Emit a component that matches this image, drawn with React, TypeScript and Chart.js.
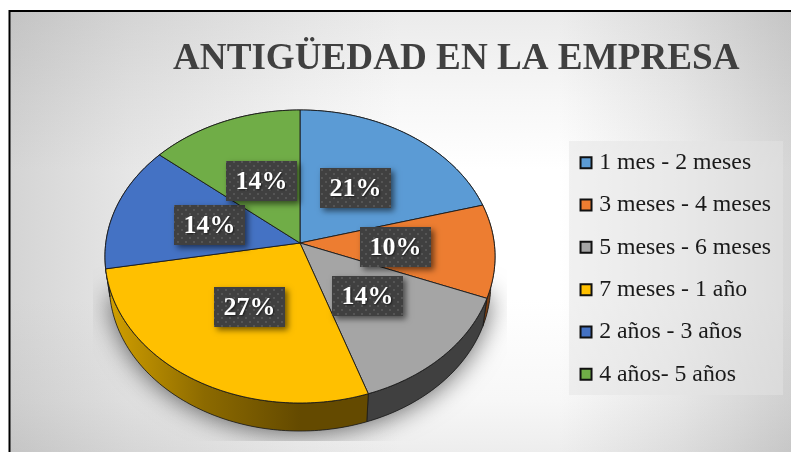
import React, { useEffect, useRef } from "react";
import { Chart, registerables } from "chart.js";

Chart.register(...registerables);

const TITLE = "ANTIGÜEDAD EN LA EMPRESA";
const CATEGORIES = [
  "1 mes - 2 meses",
  "3 meses - 4 meses",
  "5 meses - 6 meses",
  "7 meses - 1 año",
  "2 años - 3 años",
  "4 años- 5 años",
];
const VALUES = [20.7, 10.3, 13.8, 27.4, 13.9, 13.9];
const COLORS = ["#5B9BD5", "#ED7D31", "#A5A5A5", "#FFC000", "#4472C4", "#70AD47"];

const SERIF = "'Liberation Serif', serif";
const PIE_CX = 300;
const PIE_CY = 243;
const TILT = 0.748;
const PERSPECTIVE = 0.0922;
const DEPTH = 28;
const RIM_SHRINK = 0.978;

function project(cx: number, cy: number, r: number, a: number, f: number) {
  const u = Math.cos(a) * f;
  const v = Math.sin(a) * f;
  const w = 1 - PERSPECTIVE * v;
  return { x: cx + (r * u) / w, y: cy + (r * TILT * v) / w };
}

function rimPoints(r: number, a0: number, a1: number, lower: boolean) {
  const n = Math.max(4, Math.ceil((a1 - a0) / 0.02));
  const pts: { x: number; y: number }[] = [];
  for (let i = 0; i <= n; i++) {
    const a = a0 + ((a1 - a0) * i) / n;
    const p = project(PIE_CX, PIE_CY, r, a, 1);
    pts.push(
      lower ? { x: PIE_CX + (p.x - PIE_CX) * RIM_SHRINK, y: p.y + DEPTH } : p
    );
  }
  return pts;
}

function makeDots(ctx: CanvasRenderingContext2D) {
  const c = document.createElement("canvas");
  c.width = 8;
  c.height = 8;
  const g = c.getContext("2d")!;
  g.fillStyle = "#404040";
  g.fillRect(0, 0, 8, 8);
  g.fillStyle = "#555555";
  g.fillRect(1, 1, 2, 2);
  g.fillRect(5, 5, 2, 2);
  return ctx.createPattern(c, "repeat")!;
}

const backdrop = {
  id: "backdrop",
  beforeDraw(chart: any) {
    const { ctx, width, height } = chart;
    ctx.save();
    ctx.fillStyle = "#fff";
    ctx.fillRect(0, 0, width, height);

    const W = width;
    const H = height;
    const gx = ctx.createLinearGradient(10, 0, W, 0);
    const xStops: [number, number][] = [[10, 212], [130, 230], [300, 247], [400, 255], [560, 255], [680, 237], [791, 214]];
    xStops.forEach(([x, v]) => gx.addColorStop((x - 10) / (W - 10), `rgb(${v},${v},${v})`));
    ctx.fillStyle = gx;
    ctx.fillRect(10, 12, W - 10, H - 12);

    const gy = ctx.createLinearGradient(0, 12, 0, H);
    const yStops: [number, number][] = [[12, 235], [100, 247], [170, 255], [300, 255], [400, 247], [452, 237]];
    yStops.forEach(([y, v]) => gy.addColorStop((y - 12) / (H - 12), `rgb(${v},${v},${v})`));
    ctx.globalCompositeOperation = "multiply";
    ctx.fillStyle = gy;
    ctx.fillRect(10, 12, W - 10, H - 12);
    ctx.globalCompositeOperation = "source-over";

    ctx.strokeStyle = "#000";
    ctx.lineWidth = 2;
    ctx.beginPath();
    ctx.moveTo(9.5, height + 2);
    ctx.lineTo(9.5, 11);
    ctx.lineTo(width + 2, 11);
    ctx.stroke();
    ctx.fillStyle = "rgba(228,228,228,0.5)";
    ctx.fillRect(569, 141, 214, 254);
    ctx.restore();
  },
};

const pie3d = {
  id: "pie3d",
  beforeDatasetDraw(chart: any) {
    const { ctx } = chart;
    const arcs = chart.getDatasetMeta(0).data;
    const r = arcs[0].outerRadius;
    ctx.save();

    // soft cast shadow, fading upward and hard-clipped at the sides and bottom
    ctx.save();
    ctx.beginPath();
    ctx.rect(93, 230, 414, 211);
    ctx.clip();
    ctx.shadowColor = "rgba(0,0,0,0.6)";
    ctx.shadowBlur = 26;
    ctx.shadowOffsetY = 2;
    ctx.fillStyle = "#555";
    ctx.beginPath();
    rimPoints(r, -Math.PI / 2, 1.5 * Math.PI, true)
      .filter((p) => p.y >= 292)
      .forEach((p, i) => (i ? ctx.lineTo(p.x, p.y) : ctx.moveTo(p.x, p.y)));
    ctx.closePath();
    ctx.fill();
    ctx.restore();

    // side walls
    const yellowWall = ctx.createLinearGradient(108, 0, 300, 0);
    yellowWall.addColorStop(0, "#d2a000");
    yellowWall.addColorStop(0.5, "#8c6a00");
    yellowWall.addColorStop(1, "#644a00");
    const walls: any[] = ["#2f4f6b", "#7a3d10", "#404040", yellowWall, "#22396a", "#38572a"];
    arcs.forEach((el: any, i: number) => {
      const top = rimPoints(r, el.startAngle, el.endAngle, false);
      const low = rimPoints(r, el.startAngle, el.endAngle, true).reverse();
      ctx.beginPath();
      [...top, ...low].forEach((p, k) =>
        k ? ctx.lineTo(p.x, p.y) : ctx.moveTo(p.x, p.y)
      );
      ctx.closePath();
      ctx.fillStyle = walls[i];
      ctx.fill();
      ctx.strokeStyle = "#1a1a1a";
      ctx.lineWidth = 0.8;
      ctx.stroke();
    });

    // top faces
    arcs.forEach((el: any, i: number) => {
      ctx.beginPath();
      ctx.moveTo(PIE_CX, PIE_CY);
      rimPoints(r, el.startAngle, el.endAngle, false).forEach((p) =>
        ctx.lineTo(p.x, p.y)
      );
      ctx.closePath();
      ctx.fillStyle = COLORS[i];
      ctx.fill();
      ctx.strokeStyle = "#1a1a1a";
      ctx.lineWidth = 0.9;
      ctx.stroke();
    });

    // data labels
    const dots = makeDots(ctx);
    const total = VALUES.reduce((s, v) => s + v, 0);
    arcs.forEach((el: any, i: number) => {
      const mid = (el.startAngle + el.endAngle) / 2;
      const p = project(PIE_CX, PIE_CY, r, mid, 0.49);
      const bw = 71;
      const bh = 40;
      const x = Math.round(p.x - bw / 2);
      const y = Math.round(p.y - bh / 2);
      ctx.save();
      ctx.shadowColor = "rgba(0,0,0,0.55)";
      ctx.shadowBlur = 6;
      ctx.shadowOffsetX = 3;
      ctx.shadowOffsetY = 3;
      ctx.fillStyle = "#404040";
      ctx.fillRect(x, y, bw, bh);
      ctx.restore();
      ctx.fillStyle = dots;
      ctx.fillRect(x, y, bw, bh);
      ctx.save();
      ctx.shadowColor = "rgba(0,0,0,0.6)";
      ctx.shadowBlur = 2;
      ctx.shadowOffsetX = 1;
      ctx.shadowOffsetY = 1;
      ctx.fillStyle = "#fff";
      ctx.font = `bold 26px ${SERIF}`;
      ctx.textAlign = "center";
      ctx.textBaseline = "middle";
      ctx.fillText(`${Math.round((VALUES[i] / total) * 100)}%`, x + bw / 2, y + bh / 2 + 1);
      ctx.restore();
    });

    ctx.restore();
    return false;
  },
};

export default function App() {
  const ref = useRef<HTMLCanvasElement>(null);
  useEffect(() => {
    const chart = new Chart(ref.current!, {
      type: "doughnut",
      data: {
        labels: CATEGORIES,
        datasets: [
          {
            data: VALUES,
            backgroundColor: COLORS,
            borderColor: "#1a1a1a",
            borderWidth: 1,
          },
        ],
      },
      options: {
        responsive: false,
        animation: false,
        events: [],
        cutout: 0,
        radius: 194.2,
        layout: { padding: { left: 173, right: 10, top: 0, bottom: -85 } },
        plugins: {
          tooltip: { enabled: false },
          title: {
            display: true,
            text: TITLE,
            align: "start",
            color: "#404040",
            font: { family: SERIF, size: 37.15, weight: "bold" },
            padding: { top: 37, bottom: 2 },
          },
          legend: {
            display: true,
            position: "right",
            align: "center",
            labels: {
              color: "#1a1a1a",
              font: { family: SERIF, size: 23.8 },
              usePointStyle: true,
              boxWidth: 2.5,
              boxHeight: 11,
              padding: 18.5,
              generateLabels(c: any) {
                const base = (Chart as any).overrides.doughnut.plugins.legend.labels.generateLabels(c);
                return base.map((l: any) => ({
                  ...l,
                  lineWidth: 2,
                  strokeStyle: "#111",
                  pointStyle: "rect",
                }));
              },
            },
          },
        },
      } as any,
      plugins: [backdrop, pie3d],
    });
    return () => chart.destroy();
  }, []);
  return (
    <div style={{ position: "absolute", left: 0, top: 0 }}>
      <canvas ref={ref} width={791} height={452} style={{ display: "block" }} />
    </div>
  );
}
